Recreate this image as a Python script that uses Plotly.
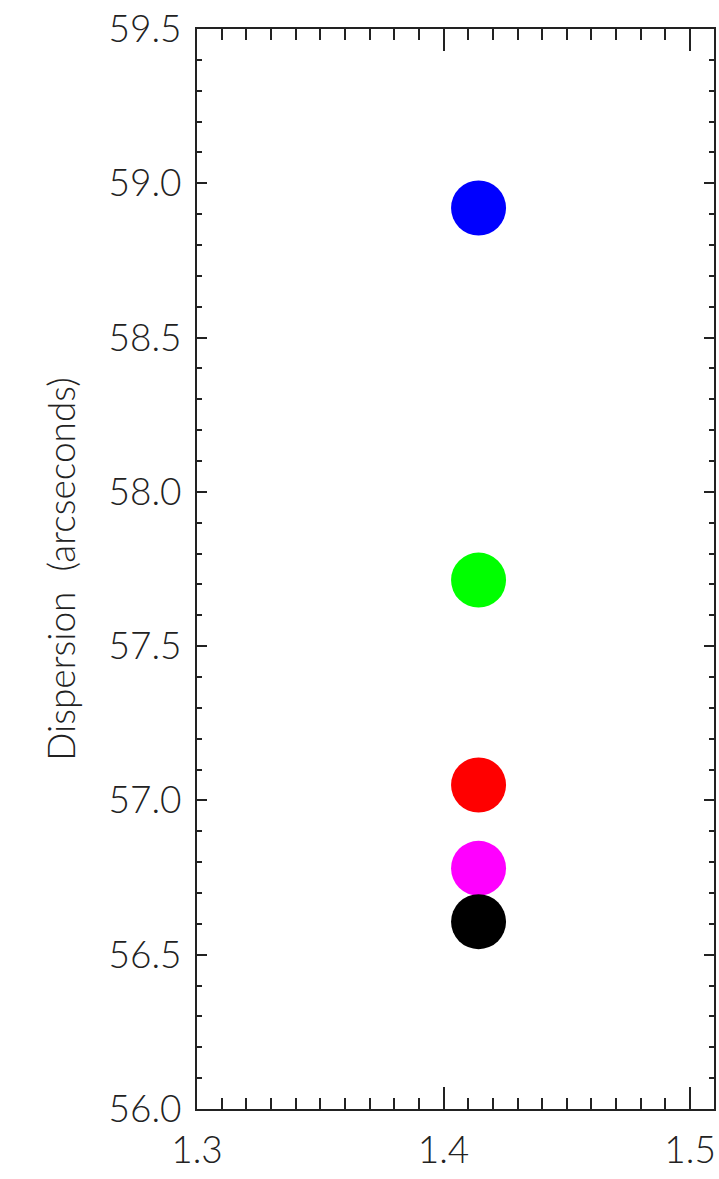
import plotly.graph_objects as go

# data
labels = ["blue", "green", "red", "magenta", "black"]
x_vals = [1.4142, 1.4142, 1.4142, 1.4142, 1.4142]
y_vals = [58.92, 57.714, 57.05, 56.78, 56.607]
colors = ["#0000ff", "#00ff00", "#ff0000", "#ff00ff", "#000000"]

fig = go.Figure()
for lab, xv, yv, c in zip(labels, x_vals, y_vals, colors):
    fig.add_trace(go.Scatter(x=[xv], y=[yv], mode="markers", name=lab,
                             marker=dict(size=55, color=c, line=dict(width=0)),
                             showlegend=False))

font = dict(family="Lato", size=37, color="#222222", weight=300)
axis_common = dict(showline=True, linecolor="#222222", linewidth=2, mirror="ticks",
                   ticks="inside", tickcolor="#222222", tickwidth=2,
                   showgrid=False, zeroline=False, tickfont=font, tickformat=".1f")

fig.update_xaxes(range=[1.3, 1.5097], tick0=1.3, dtick=0.1, ticklen=22,
                 minor=dict(dtick=0.01, ticklen=11, ticks="inside", tickcolor="#222222", tickwidth=2),
                 ticklabelstandoff=8, **axis_common)
fig.update_yaxes(range=[56.0, 59.5], tick0=56.0, dtick=0.5, ticklen=10,
                 minor=dict(dtick=0.1, ticklen=5, ticks="inside", tickcolor="#222222", tickwidth=2),
                 ticklabelstandoff=6,
                 title=dict(text="Dispersion\u00a0\u00a0(arcseconds)",
                            font=dict(family="Lato", size=37, color="#222222", weight=300),
                            standoff=22),
                 **axis_common)

fig.update_layout(width=719, height=1179, plot_bgcolor="white", paper_bgcolor="white",
                  margin=dict(l=197, r=3, t=29, b=70), showlegend=False)

fig.write_html("out.html", config={"displayModeBar": False})

# remove the default page margin so the figure sits at the window origin
with open("out.html", "r", encoding="utf-8") as f:
    html = f.read()
html = html.replace("<body>", '<body style="margin:0;padding:0;overflow:hidden">', 1)
html = html.replace("<head>", '<head><style>html,body{margin:0;padding:0;}</style>', 1)
with open("out.html", "w", encoding="utf-8") as f:
    f.write(html)
